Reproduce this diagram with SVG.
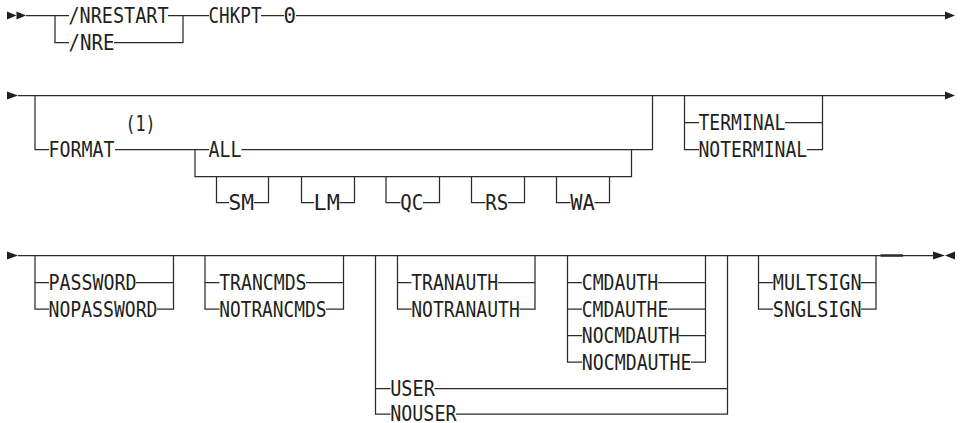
<svg xmlns="http://www.w3.org/2000/svg" width="963" height="423" viewBox="0 0 963 423">
<style>
  .t { font-family: "DejaVu Sans Mono", "Liberation Mono", monospace; font-size: 20.5px; fill: #231f20; }
  .c { fill: none; stroke: #2b2b2b; stroke-width: 1.25; }
  .a { fill: #231f20; stroke: none; }
</style>
<rect width="963" height="423" fill="#ffffff"/>
<g id="connectors">
  <!-- row 1 -->
  <path class="c" d="M26,15.5 H69 M168,15.5 H209 M261,15.5 H284 M296,15.5 H945"/>
  <path class="c" d="M55,15.5 V42.5 H69 M114,42.5 H183 V15.5"/>
  <polygon class="a" points="7,11.5 16.5,15.5 7,19.5"/>
  <polygon class="a" points="16.5,11.5 26,15.5 16.5,19.5"/>
  <polygon class="a" points="945,11.5 955,15.5 945,19.5"/>
  <!-- row 2 -->
  <polygon class="a" points="7,91.5 18,95.5 7,99.5"/>
  <path class="c" d="M18,95.5 H945"/>
  <polygon class="a" points="945,91.5 955,95.5 945,99.5"/>
  <path class="c" d="M35,95.5 V149.5 H49 M115,149.5 H209 M241.5,149.5 H652.5 V95.5"/>
  <path class="c" d="M195,149.5 V176.5 H631.5 V149.5"/>
  <path class="c" d="M216.5,176.5 V202.5 H229 M254,202.5 H268.5 V176.5"/>
  <path class="c" d="M301.5,176.5 V202.5 H314 M339.5,202.5 H354.5 V176.5"/>
  <path class="c" d="M386,176.5 V202.5 H400.5 M423,202.5 H439.5 V176.5"/>
  <path class="c" d="M471.5,176.5 V202.5 H485.5 M508,202.5 H524.5 V176.5"/>
  <path class="c" d="M556.5,176.5 V202.5 H570.5 M594.5,202.5 H609.5 V176.5"/>
  <path class="c" d="M684.5,95.5 V149.5 H699 M684.5,122.5 H699 M785,122.5 H822.5 M807,149.5 H822.5 V95.5"/>
  <!-- row 3 -->
  <polygon class="a" points="7,251.5 18,255.5 7,259.5"/>
  <path class="c" d="M18,255.5 H933"/>
  <path class="c" d="M35,255.5 V309 H49 M35,282.5 H49 M136,282.5 H173.5 M157,309 H173.5 V255.5"/>
  <path class="c" d="M205,255.5 V309 H219.5 M205,282.5 H219.5 M306,282.5 H343.5 M326,309 H343.5 V255.5"/>
  <path class="c" d="M375.5,255.5 V414 H390.5 M375.5,388.5 H390.5 M434.5,388.5 H727.5 M456,414 H727.5 V255.5"/>
  <path class="c" d="M397.5,255.5 V309 H411.5 M397.5,282.5 H411.5 M498,282.5 H535 M519.5,309 H535 V255.5"/>
  <path class="c" d="M567.5,255.5 V362 H582 M567.5,282.5 H582 M567.5,309 H582 M567.5,335.5 H582 M658,282.5 H705.5 M668,309 H705.5 M679,335.5 H705.5 M691,362 H705.5 V255.5"/>
  <path class="c" d="M758.5,255.5 V309 H773 M758.5,282.5 H773 M861,282.5 H876 M861,309 H876 V255.5"/>
  <path class="c" style="stroke-width:2.5" d="M880.5,255.5 H903"/>
  <polygon class="a" points="933,251.5 945,255.5 933,259.5"/>
  <polygon class="a" points="955,251.5 945,255.5 955,259.5"/>
</g>
<g id="n-nrestart"><text class="t" x="68.5" y="23" textLength="100" lengthAdjust="spacingAndGlyphs">/NRESTART</text></g>
<g id="n-nre"><text class="t" x="68.5" y="50" textLength="46" lengthAdjust="spacingAndGlyphs">/NRE</text></g>
<g id="n-chkpt"><text class="t" x="208.5" y="23" textLength="53" lengthAdjust="spacingAndGlyphs">CHKPT</text></g>
<g id="n-zero"><text class="t" x="283.5" y="23" textLength="12.5" lengthAdjust="spacingAndGlyphs">0</text></g>
<g id="n-note1"><text class="t" x="125.5" y="130.5" textLength="30" lengthAdjust="spacingAndGlyphs">(1)</text></g>
<g id="n-format"><text class="t" x="48.5" y="157" textLength="66" lengthAdjust="spacingAndGlyphs">FORMAT</text></g>
<g id="n-all"><text class="t" x="208.5" y="157" textLength="33" lengthAdjust="spacingAndGlyphs">ALL</text></g>
<g id="n-sm"><text class="t" x="228.5" y="210" textLength="25.5" lengthAdjust="spacingAndGlyphs">SM</text></g>
<g id="n-lm"><text class="t" x="313.5" y="210" textLength="26.3" lengthAdjust="spacingAndGlyphs">LM</text></g>
<g id="n-qc"><text class="t" x="400.2" y="210" textLength="23" lengthAdjust="spacingAndGlyphs">QC</text></g>
<g id="n-rs"><text class="t" x="485.2" y="210" textLength="23" lengthAdjust="spacingAndGlyphs">RS</text></g>
<g id="n-wa"><text class="t" x="570.2" y="210" textLength="24.6" lengthAdjust="spacingAndGlyphs">WA</text></g>
<g id="n-terminal"><text class="t" x="698.5" y="130" textLength="87" lengthAdjust="spacingAndGlyphs">TERMINAL</text></g>
<g id="n-noterminal"><text class="t" x="698.5" y="157" textLength="108.7" lengthAdjust="spacingAndGlyphs">NOTERMINAL</text></g>
<g id="n-password"><text class="t" x="48.5" y="290" textLength="88" lengthAdjust="spacingAndGlyphs">PASSWORD</text></g>
<g id="n-nopassword"><text class="t" x="48.5" y="316.5" textLength="109" lengthAdjust="spacingAndGlyphs">NOPASSWORD</text></g>
<g id="n-trancmds"><text class="t" x="219.2" y="290" textLength="87.3" lengthAdjust="spacingAndGlyphs">TRANCMDS</text></g>
<g id="n-notrancmds"><text class="t" x="219.2" y="316.5" textLength="107.3" lengthAdjust="spacingAndGlyphs">NOTRANCMDS</text></g>
<g id="n-tranauth"><text class="t" x="411.2" y="290" textLength="87" lengthAdjust="spacingAndGlyphs">TRANAUTH</text></g>
<g id="n-notranauth"><text class="t" x="411.2" y="316.5" textLength="108.6" lengthAdjust="spacingAndGlyphs">NOTRANAUTH</text></g>
<g id="n-cmdauth"><text class="t" x="581.8" y="290" textLength="76.4" lengthAdjust="spacingAndGlyphs">CMDAUTH</text></g>
<g id="n-cmdauthe"><text class="t" x="581.8" y="316.5" textLength="86.4" lengthAdjust="spacingAndGlyphs">CMDAUTHE</text></g>
<g id="n-nocmdauth"><text class="t" x="581.8" y="343" textLength="97.7" lengthAdjust="spacingAndGlyphs">NOCMDAUTH</text></g>
<g id="n-nocmdauthe"><text class="t" x="581.8" y="369.5" textLength="109.7" lengthAdjust="spacingAndGlyphs">NOCMDAUTHE</text></g>
<g id="n-user"><text class="t" x="390.2" y="396" textLength="44.6" lengthAdjust="spacingAndGlyphs">USER</text></g>
<g id="n-nouser"><text class="t" x="390.2" y="421" textLength="66.3" lengthAdjust="spacingAndGlyphs">NOUSER</text></g>
<g id="n-multsign"><text class="t" x="772.8" y="290" textLength="88.7" lengthAdjust="spacingAndGlyphs">MULTSIGN</text></g>
<g id="n-snglsign"><text class="t" x="772.8" y="316.5" textLength="88.7" lengthAdjust="spacingAndGlyphs">SNGLSIGN</text></g>
</svg>
